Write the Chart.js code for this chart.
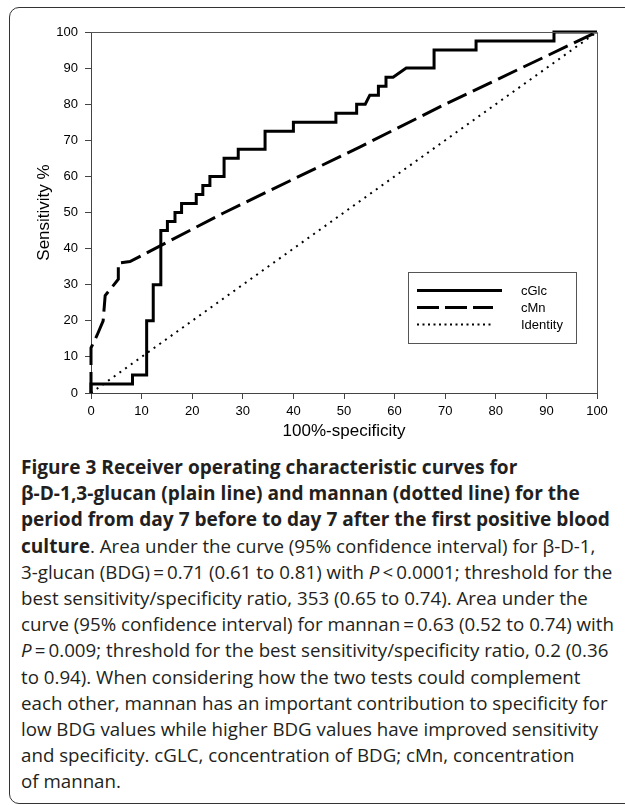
<!DOCTYPE html>
<html>
<head>
<meta charset="utf-8">
<script src="https://cdn.jsdelivr.net/npm/chart.js@4.4.1/dist/chart.umd.min.js"></script>
<style>
  html, body { margin: 0; padding: 0; background: #fff; overflow: hidden; }
  body { width: 625px; height: 805px; position: relative; }
  #frame { position: absolute; left: 9px; top: 7px; width: 720px; height: 797px;
           border: 1.5px solid #333; border-radius: 10px; box-sizing: border-box; }
  #wrap { position: absolute; left: 0; top: 0; width: 625px; height: 450px; }
  #caption { position: absolute; left: 21px; top: 454px; font-family: "Open Sans", sans-serif;
             color: #231f20; }
  #caption div { white-space: nowrap; height: 26.2px; line-height: 26.2px; }
  #caption b { font-weight: 700; }
</style>
</head>
<body>
<div id="frame"></div>
<div id="wrap"><canvas id="c" width="625" height="450"></canvas></div>
<div id="caption"></div>
<script>
// ---- data ----
const xTicks = [0, 10, 20, 30, 40, 50, 60, 70, 80, 90, 100];
const yTicks = [0, 10, 20, 30, 40, 50, 60, 70, 80, 90, 100];

const cGlcX = [0, 0, 8.2, 8.2, 11, 11, 12.3, 12.3, 13.8, 13.8, 15.1, 15.1, 16.6, 16.6, 17.9, 17.9,
  20.8, 20.8, 22.1, 22.1, 23.5, 23.5, 26.3, 26.3, 29.1, 29.1, 34.4, 34.4, 40, 40, 48.4, 48.4,
  52.5, 52.5, 54.2, 55.1, 56.8, 56.8, 58.3, 58.3, 59.7, 62.3, 67.8, 67.8, 76.1, 76.1, 91.5, 91.5, 100];
const cGlcY = [0, 2.5, 2.5, 5, 5, 20, 20, 30, 30, 45, 45, 47.5, 47.5, 50, 50, 52.5,
  52.5, 55, 55, 57.5, 57.5, 60, 60, 65, 65, 67.5, 67.5, 72.5, 72.5, 75, 75, 77.5,
  77.5, 80, 80, 82.5, 82.5, 85, 85, 87.5, 87.5, 90, 90, 95, 95, 97.5, 97.5, 100, 100];

const cMnX = [0, 0, 1.2, 2.4, 2.8, 5.4, 5.4, 7.7, 26.1, 53.2, 70.3, 100];
const cMnY = [0, 12.5, 16, 20, 27, 31.5, 36, 36.4, 49.8, 68.2, 80.2, 100];

const identityX = [0, 100];
const identityY = [0, 100];

const seriesNames = ["cGlc", "cMn", "Identity"];
const xTitle = "100%-specificity";
const yTitle = "Sensitivity %";

function pts(xs, ys) { return xs.map((x, i) => ({ x: x, y: ys[i] })); }

const tickFont = { family: "'Liberation Sans', Arial, sans-serif", size: 13 };
const titleFont = { family: "'Liberation Sans', Arial, sans-serif", size: 17 };

const framePlugin = {
  id: 'frameLegend',
  afterDatasetsDraw(chart) {
    const ctx = chart.ctx, a = chart.chartArea;
    ctx.save();
    ctx.strokeStyle = '#555';
    ctx.lineWidth = 1;
    ctx.beginPath();
    ctx.moveTo(a.left, a.top + 0.5);
    ctx.lineTo(a.right + 0.5, a.top + 0.5);
    ctx.lineTo(a.right + 0.5, a.bottom);
    ctx.stroke();

    // legend box
    ctx.strokeStyle = '#555';
    ctx.lineWidth = 1;
    ctx.strokeRect(408.5, 272.5, 168, 71);
    const ly = [290.5, 307.5, 324.5];
    const styles = [
      { w: 3, dash: [] },
      { w: 3, dash: [22, 6] },
      { w: 2, dash: [2, 3.5] }
    ];
    ctx.strokeStyle = '#000';
    for (let i = 0; i < 3; i++) {
      ctx.lineWidth = styles[i].w;
      ctx.setLineDash(styles[i].dash);
      ctx.beginPath();
      ctx.moveTo(417, ly[i]);
      ctx.lineTo(i === 0 ? 502 : 493, ly[i]);
      ctx.stroke();
    }
    ctx.setLineDash([]);
    ctx.fillStyle = '#000';
    ctx.font = "13px 'Liberation Sans', Arial, sans-serif";
    ctx.textBaseline = 'middle';
    ctx.textAlign = 'left';
    for (let i = 0; i < 3; i++) ctx.fillText(seriesNames[i], 521, ly[i] + 0.5);
    ctx.restore();
  }
};

new Chart(document.getElementById('c'), {
  type: 'scatter',
  data: {
    datasets: [
      { label: seriesNames[2], data: pts(identityX, identityY), showLine: true,
        borderColor: '#000', borderWidth: 2, borderDash: [2, 5], pointRadius: 0, order: 3, clip: 4 },
      { label: seriesNames[1], data: pts(cMnX, cMnY), showLine: true,
        borderColor: '#000', borderWidth: 3, borderDash: [21, 7], pointRadius: 0, order: 2, clip: 4 },
      { label: seriesNames[0], data: pts(cGlcX, cGlcY), showLine: true,
        borderColor: '#000', borderWidth: 3, pointRadius: 0, order: 1, clip: 4,
        borderJoinStyle: 'miter' }
    ]
  },
  options: {
    responsive: false,
    animation: false,
    layout: { padding: { top: 32, right: 28, left: 0, bottom: 0 } },
    plugins: { legend: { display: false }, tooltip: { enabled: false } },
    scales: {
      x: {
        type: 'linear', min: 0, max: 100,
        afterBuildTicks: s => { s.ticks = xTicks.map(v => ({ value: v })); },
        afterFit: s => { s.height = 57; },
        ticks: { font: tickFont, color: '#000', padding: 5, maxRotation: 0, autoSkip: false },
        grid: { drawOnChartArea: false, drawTicks: true, tickLength: 6, color: '#444' },
        border: { display: true, color: '#444', width: 1 },
        title: { display: true, text: xTitle, font: titleFont, color: '#000', padding: { top: 0, bottom: 8 } }
      },
      y: {
        type: 'linear', min: 0, max: 100,
        afterBuildTicks: s => { s.ticks = yTicks.map(v => ({ value: v })); },
        afterFit: s => { s.width = 91; },
        ticks: { font: tickFont, color: '#000', padding: 7, autoSkip: false },
        grid: { drawOnChartArea: false, drawTicks: true, tickLength: 6, color: '#444' },
        border: { display: true, color: '#444', width: 1 },
        title: { display: true, text: yTitle, font: titleFont, color: '#000', padding: { top: 34, bottom: 0 } }
      }
    }
  },
  plugins: [framePlugin]
});

// ---- caption ----
const captionLines = [
  '<b>Figure 3 Receiver operating characteristic curves for</b>',
  '<b>β-D-1,3-glucan (plain line) and mannan (dotted line) for the</b>',
  '<b>period from day 7 before to day 7 after the first positive blood</b>',
  '<b>culture</b>. Area under the curve (95% confidence interval) for β-D-1,',
  '3-glucan (BDG)\u2009=\u20090.71 (0.61 to 0.81) with <i>P</i>\u2009&lt;\u20090.0001; threshold for the',
  'best sensitivity/specificity ratio, 353 (0.65 to 0.74). Area under the',
  'curve (95% confidence interval) for mannan\u2009=\u20090.63 (0.52 to 0.74) with',
  '<i>P</i>\u2009=\u20090.009; threshold for the best sensitivity/specificity ratio, 0.2 (0.36',
  'to 0.94). When considering how the two tests could complement',
  'each other, mannan has an important contribution to specificity for',
  'low BDG values while higher BDG values have improved sensitivity',
  'and specificity. cGLC, concentration of BDG; cMn, concentration',
  'of mannan.'
];
const cap = document.getElementById('caption');
const mc = document.createElement('canvas').getContext('2d');
mc.font = "bold 17px 'Open Sans'";
const bw = mc.measureText('period from day 7 before to day 7 after the first positive blood').width;
mc.font = "17px 'Open Sans'";
const rw = mc.measureText('3-glucan (BDG)\u2009=\u20090.71 (0.61 to 0.81) with P\u2009<\u20090.0001; threshold for the').width;
const boldSize = 17 * 589 / bw;
const regSize = 17 * 592 / rw;
cap.style.fontSize = regSize + 'px';
captionLines.forEach(h => {
  const d = document.createElement('div');
  d.innerHTML = h;
  d.querySelectorAll('b').forEach(b => b.style.fontSize = boldSize + 'px');
  cap.appendChild(d);
});
</script>
</body>
</html>
